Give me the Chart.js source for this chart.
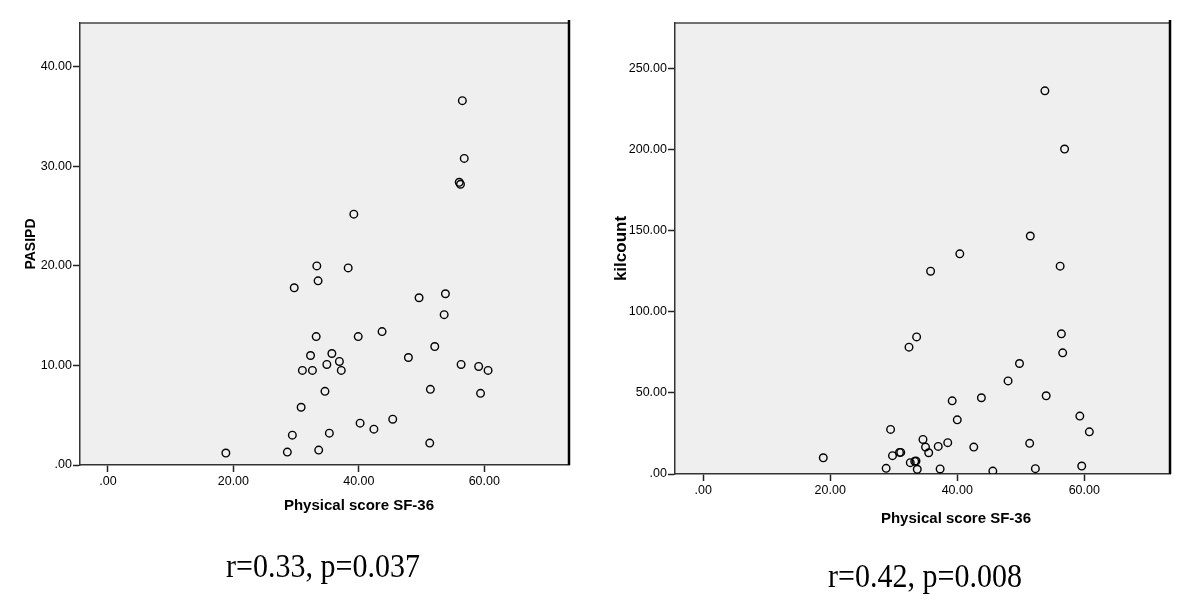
<!DOCTYPE html>
<html>
<head>
<meta charset="utf-8">
<script src="https://cdn.jsdelivr.net/npm/chart.js@4"></script>
<style>
  body { margin: 0; background: #fff; }
  #wrap { position: relative; width: 1200px; height: 610px; overflow: hidden; }
  canvas { position: absolute; top: 0; }
  .xtitle { position: absolute; font: bold 15px "Liberation Sans", Arial, sans-serif; color: #000; transform: translate(-50%, -50%); white-space: nowrap; }
  .stat { position: absolute; font: 30px "Liberation Serif", "Times New Roman", serif; line-height: 30px; height: 30px; color: #000; white-space: nowrap; transform: translateX(-50%) scaleY(1.15); }
</style>
</head>
<body>
<div id="wrap">
  <canvas id="chartPasipd" width="600" height="610" style="left:0"></canvas>
  <canvas id="chartKilcount" width="600" height="610" style="left:600px"></canvas>
  <div class="xtitle" style="left:359px; top:504px">Physical score SF-36</div>
  <div class="xtitle" style="left:956px; top:517px">Physical score SF-36</div>
  <div class="stat" style="left:323px; top:550px">r=0.33, p=0.037</div>
  <div class="stat" style="left:925px; top:560px">r=0.42, p=0.008</div>
</div>
<script>
// Physical score SF-36 vs PASIPD (left panel)
const physLeft = [56.5, 56.8, 56.0, 56.2, 39.2, 33.3, 38.3, 33.5, 29.7, 49.6,
                  53.8, 53.6, 43.7, 33.2, 39.9, 52.1, 35.7, 32.3, 36.9, 34.9,
                  47.9, 56.3, 59.1, 60.6, 31.0, 32.6, 37.2, 34.6, 51.4, 59.4,
                  30.8, 45.4, 40.2, 42.4, 29.4, 35.3, 51.3, 18.8, 28.6, 33.6];
const pasipd = [36.6, 30.8, 28.4, 28.2, 25.2, 20.0, 19.8, 18.5, 17.8, 16.8,
                17.2, 15.1, 13.4, 12.9, 12.9, 11.9, 11.2, 11.0, 10.4, 10.1,
                10.8, 10.1, 9.9, 9.5, 9.5, 9.5, 9.5, 7.4, 7.6, 7.2,
                5.8, 4.6, 4.2, 3.6, 3.0, 3.2, 2.2, 1.2, 1.3, 1.5];

// Physical score SF-36 vs kilcount (right panel)
const physRight = [53.8, 56.9, 51.5, 40.4, 35.8, 56.2, 56.4, 33.6, 32.4, 56.6,
                   49.8, 48.0, 54.0, 43.8, 39.2, 40.0, 59.3, 60.8, 29.5, 34.6,
                   38.5, 51.4, 35.0, 37.0, 42.6, 35.5, 30.9, 31.1, 29.8, 18.9,
                   32.6, 33.3, 33.5, 28.8, 33.7, 37.3, 45.6, 52.3, 59.6];
const kilcount = [236.2, 200.3, 146.7, 135.7, 125.0, 128.1, 86.4, 84.5, 78.2, 74.7,
                  68.1, 57.4, 48.2, 47.0, 45.1, 33.4, 35.7, 26.0, 27.5, 21.3,
                  19.3, 18.9, 16.6, 17.0, 16.6, 13.1, 13.3, 13.3, 11.3, 10.0,
                  7.0, 7.8, 8.0, 3.5, 2.9, 3.1, 1.8, 3.3, 4.9];

const xTicks = [0, 20, 40, 60];
const pasipdTicks = [0, 10, 20, 30, 40];
const kilcountTicks = [0, 50, 100, 150, 200, 250];

const tickFont = { family: '"Liberation Sans", Arial, sans-serif', size: 12.5 };

function fmt(v) {
    return v === 0 ? '.00' : v.toFixed(2);
}

// grey plot background + top / right frame lines
const frame = {
    id: 'frame',
    beforeDraw(chart) {
        const a = chart.chartArea, c = chart.ctx;
        c.save();
        c.fillStyle = '#efefef';
        c.fillRect(a.left, a.top, a.right - a.left, a.bottom - a.top);
        c.restore();
    },
    afterDraw(chart) {
        const a = chart.chartArea, c = chart.ctx;
        c.save();
        c.strokeStyle = '#444';
        c.lineWidth = 1.5;
        c.beginPath();
        c.moveTo(a.left, a.top);
        c.lineTo(a.right, a.top);
        c.stroke();
        c.strokeStyle = '#000';
        c.lineWidth = 2.5;
        c.beginPath();
        c.moveTo(a.right, a.top - 3);
        c.lineTo(a.right, a.bottom);
        c.stroke();
        c.restore();
    }
};

function makeChart(id, xs, ys, yMax, yTicks, yTitle, opts) {
    const pts = xs.map((x, i) => ({ x: x, y: ys[i] }));
    new Chart(document.getElementById(id).getContext('2d'), {
        type: 'scatter',
        data: {
            datasets: [{
                data: pts,
                pointRadius: 3.8,
                pointHoverRadius: 3.8,
                pointBorderWidth: 1.4,
                borderColor: '#000',
                backgroundColor: 'rgba(0,0,0,0)'
            }]
        },
        options: {
            responsive: false,
            animation: false,
            events: [],
            layout: {
                autoPadding: false,
                padding: { left: 0, top: 23, right: opts.padRight, bottom: opts.padBottom }
            },
            plugins: {
                legend: { display: false },
                tooltip: { enabled: false }
            },
            scales: {
                x: {
                    type: 'linear',
                    min: -4.45,
                    max: 73.5,
                    afterBuildTicks: s => { s.ticks = xTicks.map(v => ({ value: v })); },
                    afterFit: s => { s.height = 40; },
                    border: { display: true, color: '#333', width: 1.5 },
                    grid: { drawOnChartArea: false, drawTicks: true, tickLength: 7, tickColor: '#222', tickWidth: 1.5 },
                    ticks: { color: '#000', font: tickFont, padding: 2, maxRotation: 0, callback: fmt }
                },
                y: {
                    type: 'linear',
                    min: 0,
                    max: yMax,
                    afterBuildTicks: s => { s.ticks = yTicks.map(v => ({ value: v })); },
                    afterFit: s => { s.width = opts.yWidth; },
                    border: { display: true, color: '#333', width: 1.5 },
                    grid: { drawOnChartArea: false, drawTicks: true, tickLength: 7, tickColor: '#222', tickWidth: 1.5 },
                    ticks: { color: '#000', font: tickFont, padding: 1, callback: fmt },
                    title: {
                        display: true,
                        text: yTitle,
                        color: '#000',
                        font: { family: '"Liberation Sans", Arial, sans-serif', size: opts.titleSize, weight: 'bold' },
                        padding: { top: opts.titlePad, bottom: 0 }
                    }
                }
            }
        },
        plugins: [frame]
    });
}

makeChart('chartPasipd', physLeft, pasipd, 44.4, pasipdTicks, 'PASIPD',
    { padRight: 31, padBottom: 105, yWidth: 80, titleSize: 14, titlePad: 23 });
makeChart('chartKilcount', physRight, kilcount, 278, kilcountTicks, 'kilcount',
    { padRight: 30, padBottom: 96, yWidth: 75, titleSize: 17, titlePad: 11 });
</script>
</body>
</html>
